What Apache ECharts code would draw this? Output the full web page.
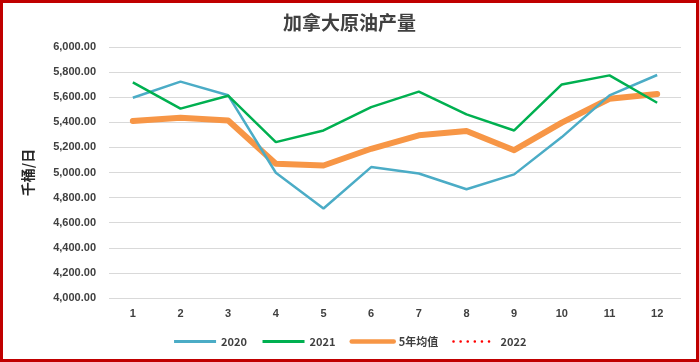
<!DOCTYPE html>
<html><head><meta charset="utf-8">
<script src="https://cdn.jsdelivr.net/npm/echarts@6/dist/echarts.min.js"></script>
<style>
html,body{margin:0;padding:0;background:#fff;}
#wrap{width:699px;height:362px;box-sizing:border-box;border:3px solid #C00000;position:relative;}
#c{position:absolute;left:-3px;top:-3px;width:699px;height:362px;}
</style></head>
<body><div id="wrap"><div id="c"></div></div>
<script>
var categories = ['1','2','3','4','5','6','7','8','9','10','11','12'];
var s2020 = [5596, 5724, 5615, 4998, 4713, 5043, 4992, 4867, 4985, 5282, 5615, 5777];
var s2021 = [5718, 5509, 5612, 5242, 5335, 5521, 5644, 5463, 5335, 5702, 5774, 5556];
var sAvg  = [5410, 5437, 5415, 5070, 5056, 5189, 5296, 5330, 5178, 5397, 5588, 5625];
var s2022 = [];
var seriesNames = ['2020', '2021', '5年均值', '2022'];

var chart = echarts.init(document.getElementById('c'));
var txt = '#404040';
chart.setOption({
  animation: false,
  title: {
    text: '加拿大原油产量', left: 'center', top: 8,
    textStyle: {fontFamily: 'Noto Sans CJK SC', fontSize: 19, fontWeight: 'bold', color: '#404040'}
  },
  legend: {
    bottom: 10, left: 'center', itemWidth: 42, itemHeight: 8, itemGap: 14,
    itemStyle: {opacity: 0},
    textStyle: {fontFamily: 'Noto Sans CJK SC', fontSize: 11, color: txt, fontWeight: 'bold'},
    data: [
      {name: seriesNames[0], lineStyle: {width: 3}},
      {name: seriesNames[1], lineStyle: {width: 3}},
      {name: seriesNames[2], lineStyle: {width: 4.5, cap: 'round'}},
      {name: seriesNames[3], lineStyle: {width: 2.5, type: [0.1, 7], cap: 'round'}}
    ]
  },
  grid: {left: 109, right: 18, top: 47, bottom: 64},
  xAxis: {
    type: 'category', data: categories, boundaryGap: true,
    axisLine: {show: false}, axisTick: {show: false},
    axisLabel: {color: txt, fontSize: 11, fontWeight: 'bold', fontFamily: 'Liberation Sans', margin: 10}
  },
  yAxis: {
    type: 'value', min: 4000, max: 6000, interval: 200,
    name: '千桶/日', nameLocation: 'middle', nameGap: 74, nameRotate: 90,
    nameTextStyle: {fontFamily: 'Noto Sans CJK SC', fontSize: 14, fontWeight: 'bold', color: '#262626'},
    axisLabel: {
      color: txt, fontSize: 11, fontWeight: 'bold', fontFamily: 'Liberation Sans', margin: 13,
      formatter: function (v) { return v.toLocaleString('en-US', {minimumFractionDigits: 2, maximumFractionDigits: 2}); }
    },
    splitLine: {lineStyle: {color: '#D9D9D9', width: 1}},
    axisLine: {show: false}, axisTick: {show: false}
  },
  series: [
    {name: '2020', type: 'line', data: s2020, symbol: 'none', z: 3,
     lineStyle: {color: '#4BACC6', width: 2.5}, itemStyle: {color: '#4BACC6'}},
    {name: '2021', type: 'line', data: s2021, symbol: 'none', z: 4,
     lineStyle: {color: '#00B050', width: 2.5}, itemStyle: {color: '#00B050'}},
    {name: '5年均值', type: 'line', data: sAvg, symbol: 'none', z: 2,
     lineStyle: {color: '#F79646', width: 6, cap: 'round', join: 'round'}, itemStyle: {color: '#F79646'}},
    {name: '2022', type: 'line', data: s2022, symbol: 'none', z: 5,
     lineStyle: {color: '#FF0000', width: 2.5, type: 'dotted'}, itemStyle: {color: '#FF0000'}}
  ]
});
</script></body></html>
